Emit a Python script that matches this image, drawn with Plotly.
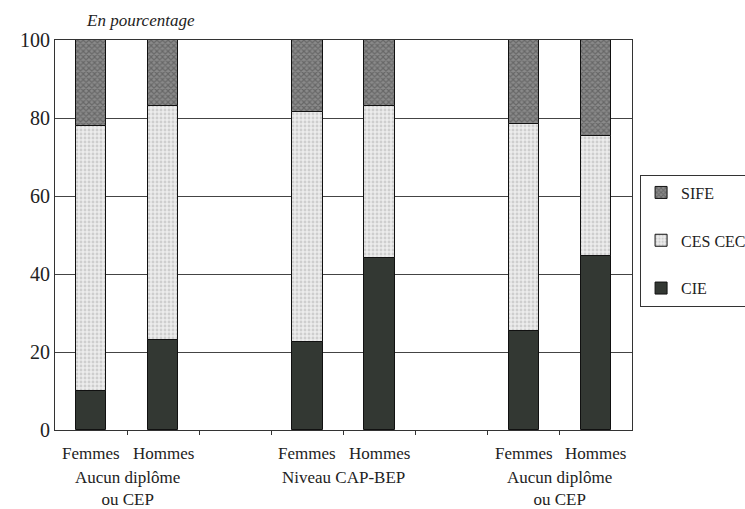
import plotly.graph_objects as go

positions = [0, 1, 3, 4, 6, 7]
sexes = ["Femmes", "Hommes", "Femmes", "Hommes", "Femmes", "Hommes"]
groups = ["Aucun diplôme<br>ou CEP", "Niveau CAP-BEP", "Aucun diplôme<br>ou CEP"]
group_pos = [0.5, 3.5, 6.5]

cie = [10, 23, 22.5, 44, 25.5, 44.5]
ces_cec = [68, 60, 59, 39, 53, 31]
sife = [22, 17, 18.5, 17, 21.5, 24.5]

FONT = "Liberation Serif, serif"
fig = go.Figure()
fig.add_trace(go.Bar(x=positions, y=sife, name="SIFE", legendgroup="a", offsetgroup="s",
                     base=[c + m for c, m in zip(cie, ces_cec)],
                     marker=dict(color="#6a6a6a", line=dict(color="#111", width=1),
                                 pattern=dict(shape="x", fgcolor="#444", bgcolor="#8a8a8a", size=4, solidity=0.5)),
                     width=0.42))
fig.add_trace(go.Bar(x=positions, y=ces_cec, name="CES CEC", legendgroup="b", offsetgroup="s",
                     base=cie,
                     marker=dict(color="#e4e4e4", line=dict(color="#111", width=1),
                                 pattern=dict(shape=".", fgcolor="#b0b0b0", bgcolor="#ececec", size=4, solidity=0.4)),
                     width=0.42))
fig.add_trace(go.Bar(x=positions, y=cie, name="CIE", legendgroup="c", offsetgroup="s",
                     marker=dict(color="#333833", line=dict(color="#111", width=1)),
                     width=0.42))

annotations = []
for p, s in zip(positions, sexes):
    annotations.append(dict(x=p, y=-0.06, xref="x", yref="paper", text=s, showarrow=False,
                            font=dict(family=FONT, size=17, color="#222"), yanchor="middle"))
for p, g in zip(group_pos, groups):
    annotations.append(dict(x=p, y=-0.093, xref="x", yref="paper", text=g, showarrow=False,
                            font=dict(family=FONT, size=17, color="#222"), yanchor="top", align="center"))
annotations.append(dict(x=0.05, y=1.02, xref="paper", yref="paper", text="<i>En pourcentage</i>",
                        showarrow=False, xanchor="left", yanchor="bottom",
                        font=dict(family=FONT, size=17, color="#222")))
fig.update_layout(
    width=745, height=509,
    margin=dict(l=55, r=113, t=40, b=79, autoexpand=False),
    paper_bgcolor="white", plot_bgcolor="white",
    barmode="overlay", bargap=0,
    font=dict(family=FONT, size=16, color="#222"),
    annotations=annotations,
    showlegend=True,
    legend=dict(x=1.014, y=0.655, xanchor="left", yanchor="top",
                traceorder="grouped", tracegroupgap=24,
                bordercolor="#333", borderwidth=1, bgcolor="white",
                font=dict(family=FONT, size=16, color="#222"), itemwidth=30),
    xaxis=dict(range=[-0.5, 7.5], tickvals=[0.5, 1.5, 2.5, 3.5, 4.5, 5.5, 6.5],
               ticktext=[""] * 7, ticks="outside", ticklen=4, tickcolor="#333",
               showline=True, linecolor="#333", linewidth=1, mirror=True, showgrid=False, zeroline=False),
    yaxis=dict(range=[0, 100], tickvals=[0, 20, 40, 60, 80, 100], ticks="",
               showline=True, linecolor="#333", linewidth=1, mirror=True,
               gridcolor="#444", gridwidth=1, zeroline=False,
               tickfont=dict(family=FONT, size=20, color="#222")),
)
fig.write_html("out.html")
